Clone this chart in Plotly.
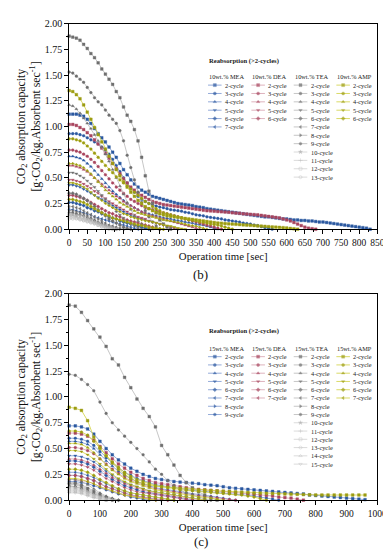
import plotly.graph_objects as go

W, H = 391, 550

# ---------------- data : 10 wt.% (time step 10 s) ----------------
time10 = list(range(0, 1001, 10))
mea10 = [
    [1.12,1.12,1.12,1.11,1.10,1.07,1.03,0.98,0.93,0.89,0.85,0.80,0.75,0.70,0.64,0.58,0.53,0.48,0.44,0.41,0.38,0.36,0.34,0.32,0.31,0.30,0.29,0.28,0.27,0.26,
     0.25,0.245,0.24,0.235,0.23,0.22,0.215,0.21,0.20,0.195,0.19,0.185,0.18,0.175,0.17,0.165,0.16,0.155,0.15,0.145,0.14,0.135,0.13,0.125,0.12,0.12,0.115,0.11,0.105,0.10,
     0.10,0.095,0.09,0.09,0.085,0.085,0.08,0.08,0.075,0.07,0.07,0.065,0.06,0.055,0.05,0.045,0.04,0.035,0.03,0.025,0.02,0.015,0.01,0.0],
    [0.93,0.93,0.93,0.92,0.91,0.89,0.87,0.85,0.83,0.80,0.77,0.73,0.68,0.62,0.56,0.50,0.45,0.40,0.36,0.32,0.29,0.27,0.25,0.235,0.225,0.215,0.21,0.20,0.19,0.185,
     0.18,0.175,0.165,0.16,0.15,0.14,0.135,0.13,0.12,0.115,0.11,0.105,0.10,0.09,0.085,0.08,0.075,0.07,0.06,0.055,0.05,0.04,0.035,0.025,0.015,0.01,0.0],
    [0.71,0.71,0.70,0.69,0.67,0.64,0.61,0.57,0.53,0.49,0.45,0.41,0.37,0.34,0.31,0.28,0.25,0.23,0.21,0.19,0.17,0.16,0.15,0.14,0.13,0.12,0.11,0.105,0.10,0.09,
     0.085,0.08,0.07,0.065,0.06,0.05,0.045,0.04,0.03,0.02,0.01,0.0],
    [0.43,0.43,0.42,0.41,0.39,0.37,0.35,0.33,0.31,0.29,0.27,0.25,0.23,0.21,0.19,0.17,0.15,0.14,0.12,0.11,0.10,0.09,0.08,0.07,0.06,0.05,0.04,0.03,0.02,0.01,0.0],
    [0.26,0.26,0.25,0.24,0.23,0.21,0.20,0.18,0.17,0.15,0.14,0.12,0.11,0.10,0.08,0.07,0.06,0.05,0.04,0.03,0.02,0.01,0.0],
    [0.19,0.19,0.18,0.17,0.16,0.15,0.14,0.12,0.11,0.10,0.09,0.08,0.07,0.06,0.05,0.04,0.03,0.02,0.01,0.0],
]
dea10 = [
    [1.02,1.02,1.01,0.99,0.97,0.94,0.91,0.87,0.83,0.79,0.74,0.69,0.64,0.59,0.54,0.49,0.45,0.41,0.38,0.35,0.33,0.31,0.29,0.27,0.26,0.25,0.24,0.235,0.23,0.225,
     0.22,0.215,0.21,0.205,0.20,0.195,0.19,0.185,0.18,0.178,0.175,0.172,0.17,0.167,0.165,0.16,0.157,0.155,0.15,0.148,0.145,0.142,0.14,0.135,0.13,0.125,0.12,0.115,0.11,0.10,
     0.09,0.08,0.065,0.05,0.035,0.02,0.01,0.005,0.0],
    [0.77,0.77,0.76,0.75,0.73,0.71,0.68,0.65,0.61,0.57,0.53,0.49,0.45,0.41,0.38,0.35,0.32,0.29,0.27,0.25,0.23,0.21,0.20,0.19,0.18,0.17,0.16,0.15,0.14,0.13,
     0.12,0.11,0.10,0.09,0.08,0.07,0.06,0.05,0.04,0.03,0.02,0.01,0.0],
    [0.62,0.62,0.61,0.60,0.58,0.56,0.53,0.50,0.47,0.44,0.41,0.38,0.35,0.32,0.30,0.27,0.25,0.23,0.21,0.19,0.17,0.16,0.14,0.13,0.12,0.11,0.10,0.09,0.08,0.07,
     0.06,0.05,0.04,0.03,0.02,0.01,0.0],
    [0.48,0.48,0.47,0.46,0.44,0.42,0.40,0.37,0.35,0.32,0.30,0.27,0.25,0.23,0.21,0.19,0.17,0.15,0.14,0.12,0.11,0.10,0.08,0.07,0.06,0.05,0.04,0.03,0.02,0.01,0.0],
    [0.33,0.33,0.32,0.31,0.30,0.28,0.26,0.24,0.22,0.20,0.18,0.16,0.15,0.13,0.12,0.10,0.09,0.08,0.07,0.06,0.05,0.04,0.03,0.02,0.01,0.0],
]
tea10 = [
    [1.88,1.87,1.86,1.84,1.80,1.76,1.71,1.67,1.62,1.56,1.51,1.46,1.41,1.34,1.28,1.19,1.11,1.05,0.97,0.86,0.70,0.52,0.37,0.25,0.16,0.09,0.05,0.02,0.0],
    [1.53,1.52,1.49,1.46,1.43,1.38,1.33,1.28,1.24,1.21,1.16,1.11,1.07,1.03,0.96,0.86,0.72,0.60,0.48,0.36,0.26,0.18,0.12,0.07,0.03,0.0],
    [1.21,1.20,1.17,1.13,1.08,1.03,0.98,0.92,0.86,0.80,0.73,0.66,0.58,0.50,0.42,0.34,0.26,0.19,0.13,0.08,0.05,0.02,0.01,0.0],
    [0.55,0.55,0.54,0.52,0.50,0.47,0.44,0.41,0.37,0.33,0.29,0.25,0.21,0.17,0.14,0.11,0.08,0.05,0.03,0.01,0.0],
    [0.35,0.35,0.34,0.32,0.30,0.28,0.25,0.22,0.19,0.16,0.13,0.10,0.08,0.06,0.04,0.02,0.01,0.0],
    [0.22,0.22,0.21,0.20,0.18,0.16,0.14,0.12,0.10,0.08,0.06,0.04,0.03,0.02,0.01,0.0],
    [0.18,0.18,0.17,0.16,0.15,0.13,0.11,0.09,0.07,0.06,0.04,0.03,0.02,0.01,0.0],
    [0.16,0.16,0.15,0.14,0.13,0.11,0.10,0.08,0.06,0.05,0.03,0.02,0.01,0.0],
    [0.14,0.14,0.13,0.13,0.12,0.10,0.09,0.07,0.06,0.04,0.03,0.02,0.01,0.0],
    [0.13,0.13,0.12,0.11,0.10,0.09,0.08,0.06,0.05,0.04,0.02,0.01,0.0],
    [0.12,0.12,0.11,0.10,0.09,0.08,0.07,0.06,0.04,0.03,0.02,0.01,0.0],
    [0.10,0.10,0.10,0.09,0.08,0.07,0.06,0.05,0.04,0.02,0.01,0.0],
]
amp10 = [
    [1.35,1.34,1.31,1.27,1.21,1.14,1.07,0.99,0.92,0.85,0.78,0.71,0.64,0.58,0.52,0.46,0.41,0.36,0.32,0.28,0.25,0.22,0.20,0.18,0.165,0.15,0.14,0.13,0.125,0.12,
     0.115,0.11,0.105,0.10,0.095,0.09,0.085,0.08,0.075,0.07,0.065,0.06,0.058,0.055,0.052,0.05,0.048,0.045,0.042,0.04,0.038,0.035,0.032,0.03,0.028,0.025,0.022,0.02,0.018,0.015,
     0.012,0.008,0.004,0.0],
    [0.88,0.88,0.87,0.86,0.84,0.81,0.78,0.74,0.70,0.66,0.62,0.58,0.55,0.51,0.48,0.45,0.42,0.39,0.36,0.33,0.30,0.27,0.25,0.22,0.20,0.18,0.16,0.15,0.14,0.13,
     0.12,0.11,0.10,0.09,0.085,0.08,0.07,0.065,0.06,0.05,0.045,0.04,0.03,0.02,0.01,0.0],
    [0.64,0.64,0.63,0.62,0.60,0.57,0.54,0.50,0.46,0.42,0.38,0.35,0.32,0.29,0.26,0.24,0.22,0.20,0.18,0.16,0.15,0.14,0.13,0.12,0.11,0.10,0.09,0.085,0.08,0.075,
     0.07,0.06,0.05,0.04,0.035,0.03,0.02,0.01,0.0],
    [0.45,0.45,0.44,0.43,0.41,0.39,0.36,0.33,0.30,0.28,0.25,0.23,0.21,0.19,0.17,0.15,0.14,0.12,0.11,0.10,0.09,0.08,0.075,0.07,0.06,0.05,0.04,0.035,0.03,0.02,0.01,0.005,0.0],
    [0.29,0.29,0.28,0.27,0.26,0.24,0.22,0.20,0.18,0.16,0.14,0.13,0.11,0.10,0.09,0.08,0.07,0.06,0.05,0.04,0.035,0.03,0.02,0.015,0.01,0.005,0.0],
]

# ---------------- data : 15 wt.% (time step 20 s) ----------------
time15 = list(range(0, 1001, 20))
mea15 = [
    [0.72,0.72,0.71,0.69,0.64,0.57,0.50,0.44,0.39,0.35,0.31,0.28,0.25,0.23,0.21,0.20,0.19,0.18,0.175,0.17,0.165,0.16,0.15,0.145,0.14,0.13,0.12,0.115,0.11,0.105,
     0.10,0.095,0.09,0.085,0.08,0.075,0.07,0.065,0.06,0.05,0.045,0.04,0.035,0.03,0.025,0.02,0.015,0.01,0.005],
    [0.60,0.60,0.59,0.57,0.53,0.47,0.41,0.36,0.31,0.27,0.24,0.21,0.19,0.17,0.15,0.14,0.13,0.12,0.11,0.10,0.095,0.09,0.085,0.08,0.075,0.07,0.065,0.06,0.055,0.05,
     0.04,0.03,0.02,0.01,0.0],
    [0.57,0.57,0.56,0.54,0.50,0.44,0.38,0.33,0.28,0.24,0.21,0.18,0.16,0.14,0.12,0.11,0.10,0.09,0.08,0.07,0.06,0.05,0.045,0.04,0.03,0.02,0.01,0.0],
    [0.43,0.43,0.42,0.40,0.37,0.33,0.28,0.24,0.20,0.17,0.15,0.13,0.11,0.09,0.08,0.07,0.06,0.05,0.04,0.03,0.02,0.01,0.0],
    [0.38,0.38,0.37,0.35,0.32,0.28,0.24,0.20,0.17,0.14,0.12,0.10,0.08,0.07,0.06,0.05,0.04,0.03,0.02,0.01,0.0],
    [0.27,0.27,0.26,0.24,0.22,0.19,0.16,0.13,0.11,0.09,0.07,0.06,0.05,0.04,0.03,0.02,0.01,0.0],
    [0.24,0.24,0.23,0.21,0.19,0.16,0.13,0.11,0.09,0.07,0.05,0.04,0.03,0.02,0.01,0.0],
    [0.18,0.18,0.17,0.16,0.14,0.12,0.10,0.08,0.06,0.05,0.03,0.02,0.01,0.0],
]
dea15 = [
    [0.65,0.65,0.64,0.62,0.58,0.52,0.46,0.40,0.35,0.31,0.27,0.24,0.21,0.19,0.17,0.16,0.15,0.14,0.13,0.12,0.11,0.105,0.10,0.095,0.09,0.085,0.08,0.075,0.07,0.065,
     0.06,0.05,0.045,0.04,0.03,0.025,0.02,0.01,0.0],
    [0.51,0.51,0.50,0.48,0.45,0.40,0.35,0.30,0.26,0.22,0.19,0.17,0.15,0.13,0.11,0.10,0.09,0.08,0.07,0.06,0.05,0.04,0.035,0.03,0.02,0.01,0.005,0.0],
    [0.40,0.40,0.39,0.37,0.34,0.30,0.26,0.22,0.19,0.16,0.14,0.12,0.10,0.08,0.07,0.06,0.05,0.04,0.03,0.02,0.01,0.005,0.0],
    [0.35,0.35,0.34,0.32,0.29,0.25,0.21,0.18,0.15,0.12,0.10,0.08,0.07,0.06,0.05,0.04,0.03,0.02,0.01,0.005,0.0],
    [0.24,0.24,0.23,0.21,0.19,0.16,0.13,0.11,0.09,0.07,0.05,0.04,0.03,0.02,0.01,0.005,0.0],
    [0.20,0.20,0.19,0.18,0.16,0.13,0.11,0.09,0.07,0.05,0.04,0.03,0.02,0.01,0.0],
]
tea15 = [
    [1.89,1.88,1.82,1.74,1.66,1.58,1.49,1.37,1.31,1.19,1.09,0.98,0.89,0.81,0.71,0.53,0.44,0.34,0.24,0.17,0.12,0.08,0.05,0.02,0.0],
    [1.22,1.21,1.17,1.12,1.06,0.95,0.84,0.75,0.68,0.62,0.56,0.50,0.44,0.37,0.30,0.25,0.19,0.14,0.10,0.07,0.05,0.03,0.01,0.0],
    [0.20,0.20,0.18,0.15,0.11,0.07,0.04,0.02,0.0],
    [0.17,0.17,0.15,0.12,0.09,0.06,0.03,0.01,0.0],
    [0.16,0.16,0.14,0.11,0.08,0.05,0.03,0.01,0.0],
    [0.15,0.15,0.13,0.10,0.07,0.04,0.02,0.0],
    [0.14,0.13,0.12,0.09,0.06,0.04,0.02,0.0],
    [0.13,0.13,0.11,0.08,0.06,0.03,0.01,0.0],
    [0.12,0.12,0.10,0.08,0.05,0.03,0.01,0.0],
    [0.11,0.11,0.09,0.07,0.05,0.03,0.01,0.0],
    [0.10,0.10,0.09,0.07,0.04,0.02,0.0],
    [0.09,0.09,0.08,0.06,0.04,0.02,0.0],
    [0.08,0.08,0.07,0.05,0.03,0.01,0.0],
    [0.07,0.07,0.06,0.04,0.02,0.01,0.0],
]
amp15 = [
    [0.90,0.89,0.87,0.77,0.61,0.51,0.43,0.36,0.30,0.25,0.21,0.18,0.16,0.145,0.135,0.13,0.125,0.12,0.115,0.11,0.105,0.10,0.097,0.094,0.09,0.087,0.084,0.08,0.077,0.074,
     0.07,0.068,0.066,0.064,0.062,0.06,0.058,0.056,0.054,0.052,0.05,0.05,0.05,0.05,0.05,0.05,0.05,0.05,0.05],
    [0.67,0.67,0.66,0.63,0.57,0.50,0.43,0.37,0.32,0.27,0.23,0.20,0.18,0.16,0.14,0.13,0.12,0.11,0.10,0.095,0.09,0.085,0.08,0.075,0.07,0.065,0.06,0.055,0.05,0.04,
     0.03,0.015,0.0],
    [0.55,0.55,0.54,0.51,0.46,0.40,0.34,0.29,0.25,0.21,0.18,0.16,0.14,0.12,0.10,0.09,0.08,0.07,0.06,0.05,0.04,0.03,0.025,0.02,0.01,0.0],
    [0.48,0.48,0.47,0.44,0.40,0.35,0.30,0.25,0.21,0.18,0.15,0.13,0.11,0.09,0.08,0.07,0.06,0.05,0.04,0.03,0.02,0.01,0.0],
    [0.30,0.30,0.29,0.27,0.24,0.20,0.17,0.14,0.11,0.09,0.07,0.06,0.05,0.04,0.03,0.02,0.01,0.0],
    [0.21,0.21,0.20,0.18,0.16,0.13,0.11,0.09,0.07,0.05,0.04,0.03,0.02,0.01,0.0],
]

amine_names = ["MEA", "DEA", "TEA", "AMP"]
conc_labels = ["10wt.%", "15wt.%"]
legend_title = "Reabsorption (>2-cycles)"

# ---------------- styles ----------------
FONT = "Liberation Serif"
symbols = ["square", "circle", "triangle-up", "triangle-down", "diamond", "triangle-left",
           "triangle-right", "hexagon", "star", "cross-thin-open", "square-open",
           "circle-open", "triangle-up-open", "triangle-down-open"]
styles = {
    "MEA": dict(mk="#2a58a0", ln="#7896cf"),
    "DEA": dict(mk="#a8455e", ln="#d6a0ad"),
    "TEA": dict(mk="#6e6e6e", ln="#b8b8b8"),
    "AMP": dict(mk="#9c9c12", ln="#d0d040"),
}
light_tea = dict(mk="#ababab", ln="#d2d2d2")
MK_SIZE = 2.7

def style_for(amine, idx):
    if amine == "TEA" and idx >= 8:
        return light_tea
    return styles[amine]

fig = go.Figure()

panels = [
    dict(groups=[mea10, dea10, tea10, amp10], time=time10, xa="x", ya="y"),
    dict(groups=[mea15, dea15, tea15, amp15], time=time15, xa="x2", ya="y2"),
]

for p in panels:
    for amine, grp in zip(amine_names, p["groups"]):
        for idx, vals in enumerate(grp):
            st = style_for(amine, idx)
            fig.add_trace(go.Scatter(
                x=p["time"][:len(vals)], y=vals, xaxis=p["xa"], yaxis=p["ya"],
                mode="lines+markers", cliponaxis=False, showlegend=False,
                line=dict(color=st["ln"], width=0.8),
                marker=dict(symbol=symbols[idx], size=MK_SIZE, color=st["mk"],
                            line=dict(width=0.4, color=st["mk"])),
                name=f"{amine} {idx+2}-cycle"))

# ---------------- custom legend (overlay axis in pixel units) ----------------
leg_layout = [
    dict(title_y=48.3, head_y=64.0, row0=72.7, dy=8.55),
    dict(title_y=324.3, head_y=341.7, row0=350.3, dy=8.45),
]
col_x = [204.3, 249.0, 292.7, 336.7]
LEG_FS = 6.3
annotations = []

def px(x):
    return x / W

def py(y):
    return 1 - y / H

for pi, (p, lg) in enumerate(zip(panels, leg_layout)):
    annotations.append(dict(x=px(col_x[0] - 1), y=py(lg["title_y"]), xref="paper", yref="paper",
                            text="<b>" + legend_title + "</b>", showarrow=False,
                            xanchor="left", yanchor="middle",
                            font=dict(family=FONT, size=LEG_FS + 0.3, color="#1a1a1a")))
    for ci, (amine, grp) in enumerate(zip(amine_names, p["groups"])):
        x0 = col_x[ci]
        annotations.append(dict(x=px(x0 - 1), y=py(lg["head_y"]), xref="paper", yref="paper",
                                text=f"{conc_labels[pi]} {amine}", showarrow=False,
                                xanchor="left", yanchor="middle",
                                font=dict(family=FONT, size=LEG_FS, color="#1a1a1a")))
        for idx in range(len(grp)):
            yy = lg["row0"] + idx * lg["dy"]
            st = style_for(amine, idx)
            fig.add_trace(go.Scatter(
                x=[x0, x0 + 7, x0 + 14], y=[yy, yy, yy], xaxis="x3", yaxis="y3",
                mode="lines+markers", showlegend=False, cliponaxis=False, hoverinfo="skip",
                line=dict(color=st["ln"], width=0.8),
                marker=dict(symbol=symbols[idx], size=[0, 3.0, 0], color=st["mk"],
                            line=dict(width=0.4, color=st["mk"]))))
            annotations.append(dict(x=px(x0 + 15.5), y=py(yy), xref="paper", yref="paper",
                                    text=f"{idx+2}-cycle", showarrow=False,
                                    xanchor="left", yanchor="middle",
                                    font=dict(family=FONT, size=LEG_FS, color="#1a1a1a")))

annotations.append(dict(x=px(197), y=py(266), xref="paper", yref="paper", text="(b)",
                        showarrow=False, xanchor="center", yanchor="middle",
                        font=dict(family=FONT, size=13, color="#111")))
annotations.append(dict(x=px(197), y=py(539), xref="paper", yref="paper", text="(c)",
                        showarrow=False, xanchor="center", yanchor="middle",
                        font=dict(family=FONT, size=13, color="#111")))

xdom = [61 / W, 379 / W]
ytitle = "CO<sub>2</sub> absorption capacity<br>[g·CO<sub>2</sub>/kg.Absorbent sec<sup>-1</sup>]"

def xax(rng, dt, mdt, anchor):
    return dict(domain=xdom, range=rng, anchor=anchor, dtick=dt, tick0=0,
                showline=True, linecolor="#000", linewidth=1, mirror=True,
                ticks="outside", ticklen=4, tickwidth=1, tickcolor="#000",
                minor=dict(ticks="outside", ticklen=2, dtick=mdt, tickcolor="#000"),
                showgrid=False, zeroline=False,
                tickfont=dict(family=FONT, size=9.5, color="#111"),
                title=dict(text="Operation time [sec]", standoff=5,
                           font=dict(family=FONT, size=10.8, color="#111")))

def yax(dom, anchor):
    return dict(domain=dom, range=[0, 2], anchor=anchor, dtick=0.25, tick0=0, tickformat=".2f",
                showline=True, linecolor="#000", linewidth=1, mirror=True,
                ticks="outside", ticklen=4, tickwidth=1, tickcolor="#000",
                minor=dict(ticks="outside", ticklen=2, dtick=0.125, tickcolor="#000"),
                showgrid=False, zeroline=False,
                tickfont=dict(family=FONT, size=10, color="#111"),
                title=dict(text=ytitle, standoff=1,
                           font=dict(family=FONT, size=11.8, color="#111")))

fig.update_layout(
    width=W, height=H, margin=dict(l=0, r=0, t=0, b=0),
    paper_bgcolor="white", plot_bgcolor="rgba(0,0,0,0)",
    xaxis=xax([0, 850], 50, 25, "y"),
    yaxis=yax([1 - 220 / H, 1 - 10 / H], "x"),
    xaxis2=xax([0, 1000], 100, 50, "y2"),
    yaxis2=yax([1 - 497 / H, 1 - 286 / H], "x2"),
    xaxis3=dict(domain=[0, 1], range=[0, W], anchor="y3", visible=False, fixedrange=True),
    yaxis3=dict(domain=[0, 1], range=[H, 0], anchor="x3", visible=False, fixedrange=True),
    annotations=annotations,
    showlegend=False,
)

fig.write_html("out.html")
